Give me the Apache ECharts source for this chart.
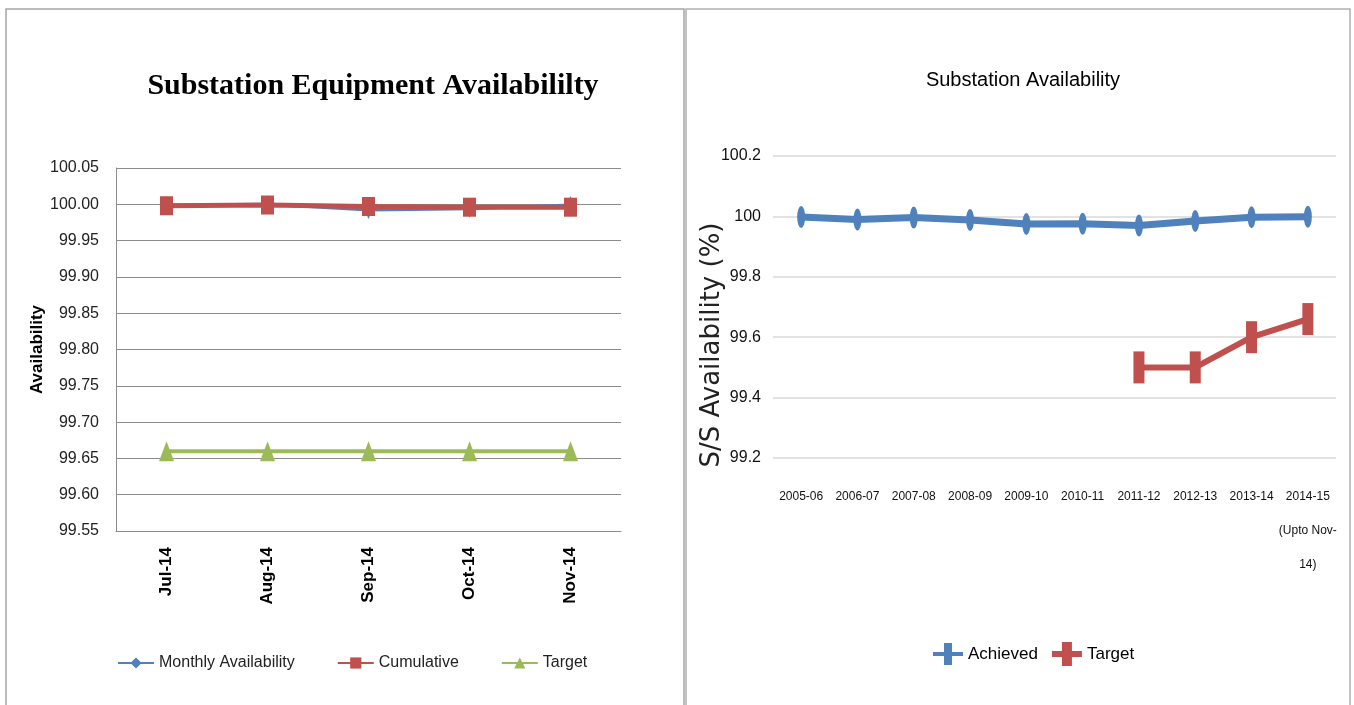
<!DOCTYPE html>
<html>
<head>
<meta charset="utf-8">
<title>Substation Availability</title>
<script src="https://cdn.jsdelivr.net/npm/echarts@6/dist/echarts.min.js"></script>
<style>
  html, body { margin: 0; padding: 0; background: #fff; }
  #main { width: 1354px; height: 705px; }
</style>
</head>
<body>
<div id="main"></div>
<script>
// left chart : monthly figures
var months = ['Jul-14', 'Aug-14', 'Sep-14', 'Oct-14', 'Nov-14'];
var monthlyAvail = [99.999, 100.000, 99.992, 99.994, 99.999];
var cumulative = [99.998, 99.999, 99.997, 99.996, 99.996];
var monthTarget = [99.66, 99.66, 99.66, 99.66, 99.66];

// right chart : yearly figures
var years = ['2005-06', '2006-07', '2007-08', '2008-09', '2009-10', '2010-11',
  '2011-12', '2012-13', '2013-14', '2014-15\n(Upto Nov-\n14)'];
var achieved = [99.998, 99.990, 99.996, 99.988, 99.975, 99.976, 99.970, 99.985, 99.997, 99.999];
var yearTarget = [null, null, null, null, null, null, 99.50, 99.50, 99.60, 99.66];

var sans = '"Liberation Sans", Arial, sans-serif';

// legend icons : line crossed by a tall marker, as in the original
var iconAchieved = 'path://M0,10L11,10L11,1L19,1L19,10L30,10L30,14L19,14L19,23L11,23L11,14L0,14Z';
var iconTarget = 'path://M0,9L10,9L10,0L20,0L20,9L30,9L30,15L20,15L20,24L10,24L10,15L0,15Z';

var chart = echarts.init(document.getElementById('main'));

chart.setOption({
  backgroundColor: '#fff',
  animation: false,
  graphic: [
    { type: 'rect', shape: { x: 6, y: 9, width: 678, height: 700 },
      style: { fill: 'none', stroke: '#a6a6a6', lineWidth: 1.5 }, silent: true },
    { type: 'rect', shape: { x: 686, y: 9, width: 664, height: 700 },
      style: { fill: 'none', stroke: '#b0b0b0', lineWidth: 1.5 }, silent: true }
  ],
  title: [{
    text: 'Substation Equipment Availabililty',
    left: 368, top: 66, textAlign: 'center',
    textStyle: { fontFamily: '"Liberation Serif", "Times New Roman", serif', fontWeight: 'bold', fontSize: 30, color: '#000' }
  }, {
    text: 'Substation Availability',
    left: 1018, top: 65, textAlign: 'center',
    textStyle: { fontFamily: sans, fontWeight: 'normal', fontSize: 20, color: '#000' }
  }],
  legend: [{
    data: ['Monthly Availability', 'Cumulative', 'Target'],
    left: 112, top: 650,
    itemWidth: 36, itemHeight: 14, itemGap: 42,
    textStyle: { fontFamily: sans, fontSize: 16, color: '#222' }
  }, {
    data: [{ name: 'Achieved', icon: iconAchieved }, { name: 'Target ', icon: iconTarget }],
    left: 928, top: 637,
    itemWidth: 30, itemHeight: 24, itemGap: 14,
    textStyle: { fontFamily: sans, fontSize: 17, color: '#000' }
  }],
  grid: [
    { left: 116, top: 168, width: 505, height: 363 },
    { left: 773, top: 156, width: 563, height: 302 }
  ],
  xAxis: [{
    gridIndex: 0, type: 'category', data: months, boundaryGap: true,
    axisLine: { lineStyle: { color: '#8c8c8c' } },
    axisTick: { show: false },
    axisLabel: { rotate: 90, margin: 16, color: '#000', fontFamily: sans, fontWeight: 'bold', fontSize: 17 }
  }, {
    gridIndex: 1, type: 'category', data: years, boundaryGap: true,
    axisLine: { show: false },
    axisTick: { show: false },
    axisLabel: { margin: 22, color: '#111', fontFamily: sans, fontSize: 12, lineHeight: 34, interval: 0 }
  }],
  yAxis: [{
    gridIndex: 0, type: 'value', min: 99.55, max: 100.05, interval: 0.05,
    name: 'Availability', nameLocation: 'middle', nameGap: 70, nameRotate: 90,
    nameMoveOverlap: false,
    nameTextStyle: { fontFamily: sans, fontWeight: 'bold', fontSize: 17, color: '#000' },
    axisLine: { show: true, lineStyle: { color: '#8c8c8c' } },
    axisTick: { show: false },
    splitLine: { lineStyle: { color: '#8c8c8c' } },
    axisLabel: { margin: 17, color: '#222', fontFamily: sans, fontSize: 16,
      formatter: function (v) { return v.toFixed(2); } }
  }, {
    gridIndex: 1, type: 'value', min: 99.2, max: 100.2, interval: 0.2,
    name: 'S/S Availability (%)', nameLocation: 'middle', nameGap: 48, nameRotate: 90,
    nameMoveOverlap: false,
    nameTextStyle: { fontFamily: '"DejaVu Sans", sans-serif', fontSize: 26, color: '#222', padding: [0, 76, 0, 0] },
    axisLine: { show: false },
    axisTick: { show: false },
    splitLine: { lineStyle: { color: '#d9d9d9', width: 1.5 } },
    axisLabel: { margin: 12, color: '#111', fontFamily: sans, fontSize: 16,
      formatter: function (v) { return String(Math.round(v * 10) / 10); } }
  }],
  series: [{
    name: 'Monthly Availability', type: 'line', xAxisIndex: 0, yAxisIndex: 0,
    data: monthlyAvail, symbol: 'diamond', symbolSize: [8, 18],
    lineStyle: { color: '#4F81BD', width: 3 }, itemStyle: { color: '#4F81BD' }
  }, {
    name: 'Cumulative', type: 'line', xAxisIndex: 0, yAxisIndex: 0,
    data: cumulative, symbol: 'rect', symbolSize: [13, 19],
    lineStyle: { color: '#C0504D', width: 5 }, itemStyle: { color: '#C0504D' }
  }, {
    name: 'Target', type: 'line', xAxisIndex: 0, yAxisIndex: 0,
    data: monthTarget, symbol: 'triangle', symbolSize: [15, 20],
    lineStyle: { color: '#9BBB59', width: 4 }, itemStyle: { color: '#9BBB59' }
  }, {
    name: 'Achieved', type: 'line', xAxisIndex: 1, yAxisIndex: 1,
    data: achieved, symbol: 'circle', symbolSize: [8, 22],
    lineStyle: { color: '#4F81BD', width: 7 }, itemStyle: { color: '#4F81BD' }
  }, {
    name: 'Target ', type: 'line', xAxisIndex: 1, yAxisIndex: 1,
    data: yearTarget, symbol: 'rect', symbolSize: [11, 32],
    lineStyle: { color: '#C0504D', width: 6 }, itemStyle: { color: '#C0504D' }
  }]
});
</script>
</body>
</html>
